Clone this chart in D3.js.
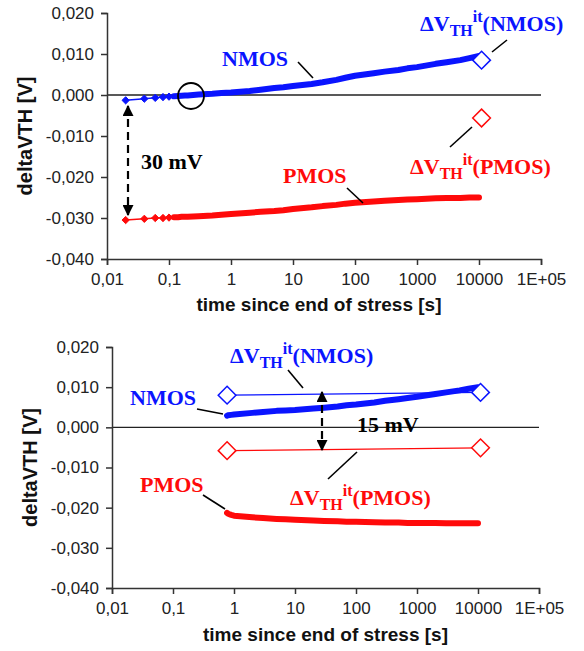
<!DOCTYPE html>
<html>
<head>
<meta charset="utf-8">
<script src="https://cdnjs.cloudflare.com/ajax/libs/d3/7.8.5/d3.min.js"></script>
<style>
  body { margin: 0; background: #fff; }
  .axis path, .axis line { stroke: #333; stroke-width: 1.5; }
  .axis text { font-family: "Liberation Sans", Arial, sans-serif; font-size: 17px; fill: #222; }
  .title { font-family: "Liberation Sans", Arial, sans-serif; font-weight: bold; font-size: 19px; fill: #111; }
  .ytitle { font-size: 20px; }
  .note { font-family: "Liberation Serif", "Times New Roman", serif; font-weight: bold; font-size: 22px; }
</style>
</head>
<body>
<svg id="drawing_region"></svg>
<script>
// tick values and labels
const xTicks = [0.01, 0.1, 1, 10, 100, 1000, 10000, 100000];
const xTickLabels = ["0,01", "0,1", "1", "10", "100", "1000", "10000", "1E+05"];
const yTicks = [0.02, 0.01, 0, -0.01, -0.02, -0.03, -0.04];
const yTickLabels = ["0,020", "0,010", "0,000", "-0,010", "-0,020", "-0,030", "-0,040"];

// top panel: recovery measured from 0.02 s
const topTime = [0.02, 0.04, 0.06, 0.08, 0.10, 0.12, 0.14, 0.16, 0.18, 0.20, 0.3, 0.5, 0.7,
                 1, 2, 3, 5, 7, 10, 20, 30, 50, 70, 100, 200, 300, 500, 700, 1000, 2000, 3000, 5000, 7000, 10000];
const topNmos = [-0.0013, -0.0009, -0.0007, -0.0005, -0.0004, -0.0003, -0.00025, -0.0002, -0.00015, -0.0001, 0.0001, 0.0003, 0.0005,
                 0.0006, 0.0010, 0.0013, 0.0017, 0.0019, 0.0022, 0.0027, 0.0031, 0.0037, 0.0042, 0.0047, 0.0053, 0.0057, 0.0061, 0.0065, 0.0068, 0.0076, 0.0080, 0.0085, 0.0090, 0.0095];
const topPmos = [-0.0305, -0.0302, -0.0300, -0.0300, -0.0299, -0.0298, -0.0298, -0.0297, -0.0297, -0.0297, -0.0296, -0.0294, -0.0292,
                 -0.0290, -0.0287, -0.0285, -0.0283, -0.0281, -0.0278, -0.0274, -0.0271, -0.0268, -0.0265, -0.0263, -0.0260, -0.0258, -0.0256, -0.0255, -0.0254, -0.0252, -0.0251, -0.0251, -0.0250, -0.0250];
const topItTime = [11000];
const topItNmos = [0.0085];
const topItPmos = [-0.0056];

// bottom panel: recovery measured from 0.77 s
const bottomTime = [0.77, 0.8, 0.9, 1, 2, 3, 5, 7, 10, 20, 30, 50, 70, 100, 200, 300, 500, 700, 1000, 2000, 3000, 5000, 7000, 10000];
const bottomNmos = [0.0029, 0.0030, 0.0031, 0.0032, 0.0036, 0.0038, 0.0041, 0.0042, 0.0043, 0.0047, 0.0049, 0.0052, 0.0055, 0.0057,
                    0.0062, 0.0066, 0.0070, 0.0073, 0.0076, 0.0083, 0.0087, 0.0092, 0.0096, 0.0100];
const bottomPmos = [-0.0213, -0.0215, -0.0218, -0.0220, -0.0224, -0.0226, -0.0228, -0.0229, -0.0230, -0.0232, -0.0233, -0.0234, -0.0235, -0.0235,
                    -0.0236, -0.0237, -0.0237, -0.0238, -0.0238, -0.0238, -0.0239, -0.0239, -0.0239, -0.0239];
const bottomItTime = [0.77, 11000];
const bottomItNmos = [0.0080, 0.0087];
const bottomItPmos = [-0.0058, -0.0051];

const BLUE = "#0a14ff", RED = "#ff0a0a";

const svg = d3.select("#drawing_region").attr("width", 584).attr("height", 651);

const defs = svg.append("defs");
defs.append("marker")
    .attr("id", "head")
    .attr("viewBox", "0 0 10 10")
    .attr("refX", 9).attr("refY", 5)
    .attr("markerWidth", 5).attr("markerHeight", 5)
    .attr("markerUnits", "strokeWidth")
    .attr("orient", "auto-start-reverse")
    .append("path").attr("d", "M0,0L10,5L0,10Z").attr("fill", "#000");

class Panel {
    constructor(config) {
        this.config = config;
        this.init();
    }

    init() {
        let self = this;
        const c = self.config;
        self.x = d3.scaleLog().domain([0.01, 100000]).range([c.left, c.right]);
        self.y = d3.scaleLinear().domain([-0.04, 0.02]).range([c.bottom, c.top]);
        self.g = svg.append("g");
    }

    render() {
        let self = this;
        const c = self.config, x = self.x, y = self.y, g = self.g;

        // zero line
        g.append("line")
            .attr("x1", x(0.01)).attr("x2", x(100000))
            .attr("y1", y(0)).attr("y2", y(0))
            .attr("stroke", "#222").attr("stroke-width", 1.3);

        g.append("g").attr("class", "axis")
            .attr("transform", `translate(0,${c.bottom})`)
            .call(d3.axisBottom(x).tickValues(xTicks).tickSizeOuter(0).tickSize(6).tickPadding(8)
                .tickFormat((d, i) => xTickLabels[i]));

        g.append("g").attr("class", "axis")
            .attr("transform", `translate(${c.left},0)`)
            .call(d3.axisLeft(y).tickValues(yTicks).tickSizeOuter(0).tickSize(6).tickPadding(7)
                .tickFormat((d, i) => yTickLabels[i]));

        g.append("text").attr("class", "title")
            .attr("x", (c.left + c.right) / 2 + c.xTitleShift).attr("y", c.xTitleY)
            .attr("text-anchor", "middle")
            .text("time since end of stress [s]");

        g.append("text").attr("class", "title ytitle")
            .attr("transform", `translate(${c.yTitleX},${(c.top + c.bottom) / 2}) rotate(-90)`)
            .attr("text-anchor", "middle")
            .text("deltaVTH [V]");

        // measured curves
        self.series(c.time, c.nmos, BLUE, c.bandFrom);
        self.series(c.time, c.pmos, RED, c.bandFrom);

        // interface trap component
        self.itSeries(c.itTime, c.itNmos, BLUE);
        self.itSeries(c.itTime, c.itPmos, RED);
    }

    series(time, vals, color, bandFrom) {
        let self = this;
        const pts = time.map((t, i) => ({ t: t, v: vals[i] }));
        const line = d3.line().x(d => self.x(d.t)).y(d => self.y(d.v));
        self.g.append("path")
            .attr("d", line(pts))
            .attr("fill", "none").attr("stroke", color).attr("stroke-width", 1.5);
        self.g.append("path")
            .attr("d", line(pts.filter(d => d.t >= bandFrom)))
            .attr("fill", "none").attr("stroke", color)
            .attr("stroke-width", 6).attr("stroke-linecap", "round").attr("stroke-linejoin", "round");
        self.g.selectAll(null)
            .data(pts.filter(d => d.t < bandFrom))
            .enter()
            .append("path")
            .attr("transform", d => `translate(${self.x(d.t)},${self.y(d.v)})`)
            .attr("d", d3.symbol(d3.symbolDiamond2, 34))
            .attr("fill", color).attr("stroke", color).attr("stroke-width", 1);
    }

    itSeries(time, vals, color) {
        let self = this;
        const pts = time.map((t, i) => ({ t: t, v: vals[i] }));
        if (pts.length > 1) {
            self.g.append("path")
                .attr("d", d3.line().x(d => self.x(d.t)).y(d => self.y(d.v))(pts))
                .attr("fill", "none").attr("stroke", color).attr("stroke-width", 1.2);
        }
        self.g.selectAll(null)
            .data(pts)
            .enter()
            .append("path")
            .attr("transform", d => `translate(${self.x(d.t)},${self.y(d.v)})`)
            .attr("d", d3.symbol(d3.symbolDiamond2, 200))
            .attr("fill", "#fff").attr("stroke", color).attr("stroke-width", 1.5);
    }

    // bold serif label, optionally with the "ΔV_TH^it" prefix
    label(text, px, py, color, it) {
        const t = this.g.append("text").attr("class", "note")
            .attr("x", px).attr("y", py).attr("fill", color);
        if (it) {
            t.append("tspan").text("ΔV");
            t.append("tspan").attr("dy", 5).attr("font-size", 16).text("TH");
            t.append("tspan").attr("dy", -14).attr("font-size", 16).text("it");
            t.append("tspan").attr("dy", 9).text(text);
        } else {
            t.text(text);
        }
    }

    leader(x1, y1, x2, y2) {
        this.g.append("line")
            .attr("x1", x1).attr("y1", y1).attr("x2", x2).attr("y2", y2)
            .attr("stroke", "#000").attr("stroke-width", 1.6);
    }

    arrow(px, y1, y2) {
        this.g.append("line")
            .attr("x1", px).attr("x2", px).attr("y1", y1).attr("y2", y2)
            .attr("stroke", "#000").attr("stroke-width", 2.2)
            .attr("stroke-dasharray", "8,5")
            .attr("marker-start", "url(#head)").attr("marker-end", "url(#head)");
    }
}

const topPanel = new Panel({
    left: 107, right: 541, top: 13, bottom: 259,
    xTitleY: 311, xTitleShift: -5, yTitleX: 32,
    time: topTime, nmos: topNmos, pmos: topPmos, bandFrom: 0.11,
    itTime: topItTime, itNmos: topItNmos, itPmos: topItPmos
});
topPanel.render();
topPanel.g.append("circle").attr("cx", 191).attr("cy", 96).attr("r", 13)
    .attr("fill", "none").attr("stroke", "#000").attr("stroke-width", 1.8);
topPanel.arrow(128, 106, 215);
topPanel.label("30 mV", 141, 169, "#000", false);
topPanel.label("NMOS", 222, 66, BLUE, false);
topPanel.leader(298, 62, 313, 78);
topPanel.label("(NMOS)", 420, 31, BLUE, true);
topPanel.leader(492, 52, 507, 40);
topPanel.label("(PMOS)", 410, 174, RED, true);
topPanel.leader(450, 147, 472, 127);
topPanel.label("PMOS", 283, 183, RED, false);
topPanel.leader(347, 188, 363, 203);

const bottomPanel = new Panel({
    left: 112, right: 539, top: 347, bottom: 588,
    xTitleY: 641, xTitleShift: 0, yTitleX: 37,
    time: bottomTime, nmos: bottomNmos, pmos: bottomPmos, bandFrom: 0,
    itTime: bottomItTime, itNmos: bottomItNmos, itPmos: bottomItPmos
});
bottomPanel.render();
bottomPanel.arrow(322, 392, 450);
bottomPanel.label("15 mV", 357, 432, "#000", false);
bottomPanel.label("(NMOS)", 230, 363, BLUE, true);
bottomPanel.leader(288, 370, 303, 388);
bottomPanel.label("NMOS", 130, 405, BLUE, false);
bottomPanel.leader(197, 409, 223, 414);
bottomPanel.label("PMOS", 140, 492, RED, false);
bottomPanel.leader(203, 495, 225, 509);
bottomPanel.label("(PMOS)", 290, 505, RED, true);
bottomPanel.leader(328, 479, 357, 452);
</script>
</body>
</html>
